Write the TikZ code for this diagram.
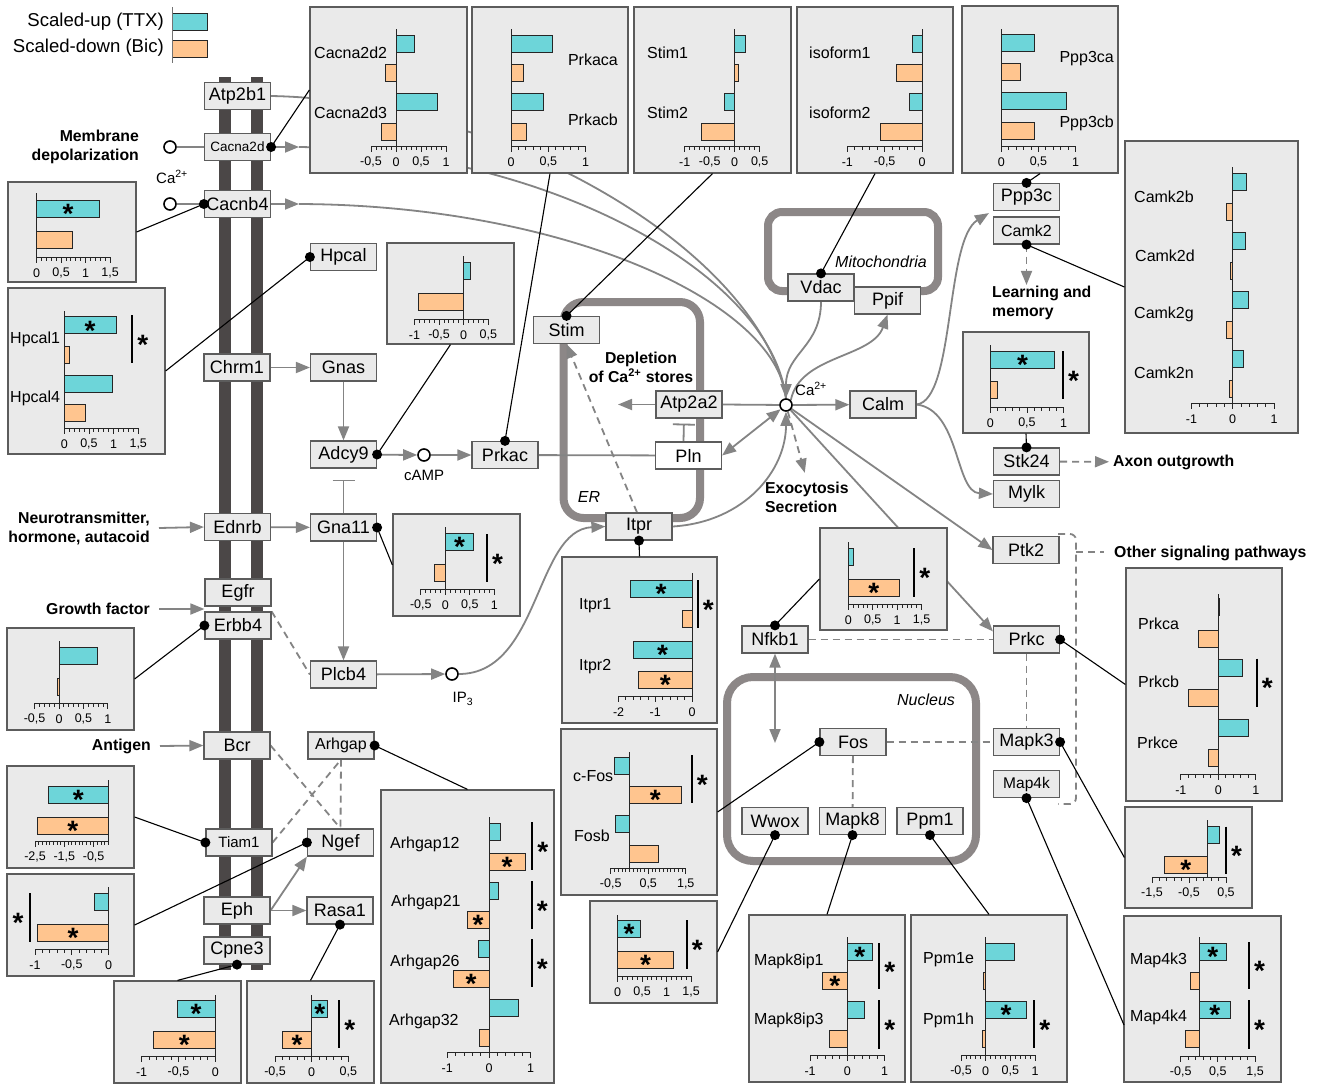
\documentclass[tikz,border=0pt]{standalone}
\usepackage{fontspec}
\setmainfont{Liberation Sans}
\usetikzlibrary{positioning, arrows.meta, fit, backgrounds, calc}

\definecolor{upc}{HTML}{6DD5D9}
\definecolor{dnc}{HTML}{FFC58F}
\definecolor{boxc}{HTML}{EAEAEA}
\definecolor{edgec}{HTML}{5C5C5C}
\definecolor{flowc}{HTML}{848484}
\definecolor{compc}{HTML}{8C8787}
\definecolor{membc}{HTML}{4B4747}

% bars of a chart: top edge (px), value (axis units)
\newcommand\bup[2]{\draw[upbar] (0,#1) rectangle (#2,{#1+17});}
\newcommand\bdn[2]{\draw[dnbar] (0,#1) rectangle (#2,{#1+17});}
\newcommand\bst[2]{\node[astn] at ({#2/2},{#1+8.5}) {*};}
% significance bar: [star offset] x, y from, y to
\newcommand\sig[4][10.5]{\draw[sigln] (#2,#3) -- (#2,#4); \node[astn] at ({#2+(#1)},{(#3+#4)/2}) {*};}
% axes: min, max, minor step, top of value axis, baseline, major ticks
\newcommand\chart[6]{%
  \draw[axisln] (#1,#5) -- (#2,#5);
  \pgfmathsetmacro\tnext{#1+#3}%
  \foreach \tk in {#1,\tnext,...,#2} {\draw[axisln] (\tk,#5) -- (\tk,{#5+3.5});}
  \foreach \mv/\ml in {#6} {\draw[axisln] (\mv,#5) -- (\mv,{#5+6}); \node[tick] at (\mv,{#5+16}) {\ml};}
  \draw[axisln] (0,#4) -- (0,#5);
}
% black link from a gene to its chart
\newcommand\hit[2]{\draw[conn] (#1) -- (#2); \fill (#1) circle[radius=5pt];}

\begin{document}
\begin{tikzpicture}[
    x=1pt, y=-1pt,
    gene/.style={
        rectangle, draw=edgec, line width=1.2pt, fill=boxc,
        minimum width=66pt, minimum height=27pt, inner sep=1pt,
        font=\fontsize{18}{20}\selectfont
    },
    genesm/.style={gene, font=\fontsize{13.5}{15}\selectfont},
    panel/.style={rectangle, draw=edgec, line width=1.2pt, fill=boxc, inner sep=0pt},
    port/.style={circle, draw=black, line width=1.6pt, fill=white, minimum size=12pt, inner sep=0pt},
    upbar/.style={fill=upc, draw=black!85, line width=0.8pt},
    dnbar/.style={fill=dnc, draw=black!85, line width=0.8pt},
    axisln/.style={draw=black!85, line width=0.9pt},
    sigln/.style={draw=black, line width=2pt},
    astn/.style={font=\fontsize{28}{28}\selectfont\bfseries, inner sep=0pt, yshift=-5.6pt},
    glabel/.style={font=\fontsize{16}{18}\selectfont, inner sep=0pt},
    tick/.style={font=\fontsize{12.5}{14}\selectfont, inner sep=0pt},
    tag/.style={font=\fontsize{15.8}{19}\selectfont\bfseries, inner sep=1pt},
    note/.style={font=\fontsize{15}{17}\selectfont, inner sep=1pt},
    region/.style={font=\fontsize{16}{18}\selectfont\itshape, inner sep=1pt},
    compart/.style={draw=compc, line width=8pt, rounded corners=20pt},
    gline/.style={draw=flowc, line width=1.8pt},
    flow/.style={gline, -{Triangle[length=14pt,width=11pt]}},
    both/.style={gline, {Triangle[length=14pt,width=11pt]}-{Triangle[length=14pt,width=11pt]}},
    dline/.style={gline, dash pattern=on 7pt off 5pt},
    dflow/.style={flow, dash pattern=on 7pt off 5pt},
    inhib/.style={gline, -{Bar[width=22pt]}},
    conn/.style={draw=black, line width=1.1pt}
]
\useasboundingbox (0,0) rectangle (1326,1085);

% ---------------- Legend ----------------
\node[note, anchor=east, font=\fontsize{18.6}{21}\selectfont] (legUpTxt) at (165,22) {Scaled-up (TTX)};
\node[note, anchor=east, font=\fontsize{18.6}{21}\selectfont] (legDnTxt) at (165,48) {Scaled-down (Bic)};
\node[upbar, fit={(172,13)(207,30)}, inner sep=0pt] (legUp) {};
\node[dnbar, fit={(172,40)(207,57)}, inner sep=0pt] (legDn) {};
\draw[draw=black!55, line width=1pt] (172,7) -- (172,63);

% ---------------- Plasma membrane ----------------
\node[gene] (Atp2b1) at (237.5,96) {Atp2b1};
\node[genesm] (Cacna2d) at (237.5,147) {Cacna2d};
\node[gene] (Cacnb4) at (237.5,204) {Cacnb4};
\node[gene] (Chrm1) at (237,367.5) {Chrm1};
\node[gene] (Ednrb) at (237.5,527) {Ednrb};
\node[gene] (Egfr) at (238,592.5) {Egfr};
\node[gene] (Erbb4) at (238,625.5) {Erbb4};
\node[gene] (Bcr) at (237,745.5) {Bcr};
\node[genesm, font=\fontsize{15}{17}\selectfont] (Tiam1) at (239,842.5) {Tiam1};
\node[gene] (Eph) at (237,910.5) {Eph};
\node[gene] (Cpne3) at (237,950.5) {Cpne3};

\node[port] (caA) at (170,147) {};
\node[port] (caB) at (170,204) {};
\node[note] (caInLbl) at (172,177) {Ca\textsuperscript{2+}};
\coordinate (tipA) at (299,147);
\coordinate (tipB) at (299,204);

\node[tag, align=right, anchor=east] (memdep) at (140,147) {Membrane\\depolarization};
\node[tag, align=right, anchor=east] (ntx) at (151,528) {Neurotransmitter,\\hormone, autacoid};
\node[tag, anchor=east] (gf) at (151,609) {Growth factor};
\node[tag, anchor=east] (ag) at (152,746) {Antigen};
\coordinate (gfIn) at ($(Egfr.south west)!0.5!(Erbb4.north west)$);

% ---------------- Cytosol ----------------
\node[gene] (Hpcal) at (343.5,257) {Hpcal};
\node[gene] (Gnas) at (343.5,367.5) {Gnas};
\node[gene] (Adcy9) at (343.5,454.5) {Adcy9};
\node[gene] (Gna11) at (343.5,527.5) {Gna11};
\node[gene] (Plcb4) at (343.5,674.5) {Plcb4};
\node[genesm, font=\fontsize{16}{18}\selectfont] (Arhgap) at (341,745.5) {Arhgap};
\node[gene] (Ngef) at (340.5,842.5) {Ngef};
\node[gene] (Rasa1) at (340,910.5) {Rasa1};
\node[gene] (Prkac) at (505,455) {Prkac};
\node[port] (cAMP) at (424,455) {};
\node[note] (cAMPLbl) at (424,475) {cAMP};
\node[port] (IP3) at (452,674) {};
\node[note] (IP3Lbl) at (463,699) {IP\textsubscript{3}};

% ---------------- ER ----------------
\node[gene] (Stim) at (566.5,330) {Stim};
\node[gene] (Atp2a2) at (689,404.5) {Atp2a2};
\node[gene, fill=white] (Pln) at (688.5,455.5) {Pln};
\node[gene] (Itpr) at (639,526.5) {Itpr};
\node[region] (erLbl) at (589,497) {ER};
\node[tag, align=center] (deplete) at (641,367) {Depletion\\of Ca\textsuperscript{2+} stores};
\coordinate (erIn) at (618,404.5);

% ---------------- Ca2+ hub ----------------
\node[port] (Ca) at (786,405) {};
\node[note] (CaLbl) at (811,389) {Ca\textsuperscript{2+}};
\node[gene] (Vdac) at (821,287.5) {Vdac};
\node[gene] (Ppif) at (887.5,300.5) {Ppif};
\node[region] (mitoLbl) at (881,262) {Mitochondria};
\node[gene] (Calm) at (883,404.5) {Calm};
\node[tag, align=left, anchor=west] (exo) at (764,497) {Exocytosis\\Secretion};

% ---------------- Right column ----------------
\node[gene] (Ppp3c) at (1026.5,197) {Ppp3c};
\node[gene, font=\fontsize{16}{18}\selectfont] (Camk2) at (1026.5,230.5) {Camk2};
\node[tag, align=left, anchor=west] (learn) at (991,303) {Learning and\\memory};
\node[gene] (Stk24) at (1026.5,461.5) {Stk24};
\node[gene] (Mylk) at (1026.5,494) {Mylk};
\node[tag, anchor=west] (axon) at (1112,462) {Axon outgrowth};
\node[gene] (Ptk2) at (1026,550) {Ptk2};
\node[tag, anchor=west] (other) at (1113,553) {Other signaling pathways};
\node[gene] (Nfkb1) at (775,639.5) {Nfkb1};
\node[gene] (Prkc) at (1026.5,639.5) {Prkc};
\node[gene] (Mapk3) at (1026.5,742) {Mapk3};
\node[gene, font=\fontsize{15.5}{17}\selectfont] (Map4k) at (1026.5,784) {Map4k};

% ---------------- Nucleus ----------------
\node[gene] (Fos) at (853,742) {Fos};
\node[gene] (Wwox) at (775,821) {Wwox};
\node[gene] (Mapk8) at (852.5,821) {Mapk8};
\node[gene] (Ppm1) at (930,821) {Ppm1};
\node[region] (nucLbl) at (926,700) {Nucleus};
\coordinate (nucIn) at (775,743);

% ---------------- Charts, top row ----------------
\node[panel, fit={(310,7)(467,173)}] (pCacna) {};
\begin{scope}[shift={(396,0)}, x=50pt]
  \bup{35}{0.37} \bdn{64.5}{-0.21} \bup{93.5}{0.83} \bdn{123}{-0.3}
  \chart{-0.5}{1}{0.1}{29}{146}{-0.5/{-0,5}, 0/0, 0.5/{0,5}, 1/1}
\end{scope}
\node[glabel, anchor=west] (lCa2) at (314,53) {Cacna2d2};
\node[glabel, anchor=west] (lCa3) at (314,113) {Cacna2d3};

\node[panel, fit={(472,7)(628,173)}] (pPrkac) {};
\begin{scope}[shift={(511,0)}, x=74.7pt]
  \bup{35}{0.55} \bdn{64.5}{0.16} \bup{93.5}{0.43} \bdn{123}{0.21}
  \chart{0}{1}{0.1}{29}{146}{0/0, 0.5/{0,5}, 1/1}
\end{scope}
\node[glabel, anchor=east] (lPka) at (618,60) {Prkaca};
\node[glabel, anchor=east] (lPkb) at (618,120) {Prkacb};

\node[panel, fit={(634,7)(791,173)}] (pStim) {};
\begin{scope}[shift={(734.7,0)}, x=50pt]
  \bup{35}{0.22} \bdn{64.5}{0.07} \bup{93.5}{-0.21} \bdn{123}{-0.67}
  \chart{-1}{0.5}{0.1}{29}{146}{-1/{-1}, -0.5/{-0,5}, 0/0, 0.5/{0,5}}
\end{scope}
\node[glabel, anchor=west] (lSt1) at (647,53) {Stim1};
\node[glabel, anchor=west] (lSt2) at (647,113) {Stim2};

\node[panel, fit={(797,7)(953,173)}] (pIso) {};
\begin{scope}[shift={(922,0)}, x=74.7pt]
  \bup{35}{-0.125} \bdn{64.5}{-0.34} \bup{93.5}{-0.17} \bdn{123}{-0.56}
  \chart{-1}{0}{0.1}{29}{146}{-1/{-1}, -0.5/{-0,5}, 0/0}
\end{scope}
\node[glabel, anchor=west] (lIs1) at (809,53) {isoform1};
\node[glabel, anchor=west] (lIs2) at (809,113) {isoform2};

\node[panel, fit={(962,6)(1118,173)}] (pPpp3c) {};
\begin{scope}[shift={(1001.3,0)}, x=74.3pt]
  \bup{34}{0.44} \bdn{63}{0.26} \bup{92}{0.88} \bdn{122}{0.45}
  \chart{0}{1}{0.1}{29}{146}{0/0, 0.5/{0,5}, 1/1}
\end{scope}
\node[glabel, anchor=east] (lPpa) at (1114,59) {Ppp3ca};
\node[glabel, anchor=east] (lPpb) at (1114,123) {Ppp3cb};

% ---------------- Charts, right ----------------
\node[panel, fit={(1125,141)(1298,433)}] (pCamk2) {};
\begin{scope}[shift={(1232.7,0)}, x=41.3pt]
  \bup{173}{0.34} \bdn{203}{-0.15} \bup{232}{0.31} \bdn{262}{-0.05}
  \bup{291}{0.39} \bdn{321}{-0.15} \bup{350}{0.27} \bdn{380}{-0.09}
  \chart{-1}{1}{0.2}{167}{403}{-1/{-1}, 0/0, 1/1}
\end{scope}
\node[glabel, anchor=west] (lCkb) at (1134,197) {Camk2b};
\node[glabel, anchor=west] (lCkd) at (1135,256) {Camk2d};
\node[glabel, anchor=west] (lCkg) at (1134,314) {Camk2g};
\node[glabel, anchor=west] (lCkn) at (1134,373) {Camk2n};

\node[panel, fit={(963,332)(1089,433)}] (pStk) {};
\begin{scope}[shift={(990.3,0)}, x=73.3pt]
  \bup{351}{0.88} \bst{351}{0.88} \bdn{381}{0.1}
  \chart{0}{1}{0.1}{345}{407}{0/0, 0.5/{0,5}, 1/1}
\end{scope}
\sig{1063}{351}{399}

\node[panel, fit={(820,528)(947,630)}] (pNfkb) {};
\begin{scope}[shift={(848.3,0)}, x=48.9pt]
  \bup{548}{0.11} \bdn{579}{1.04} \bst{579}{1.04}
  \chart{0}{1.5}{0.1}{542}{604}{0/0, 0.5/{0,5}, 1/1, 1.5/{1,5}}
\end{scope}
\sig{914.3}{548}{597}

\node[panel, fit={(1126,568)(1282,801)}] (pPrkc) {};
\begin{scope}[shift={(1218.3,0)}, x=37.5pt]
  \bup{598}{0.02} \bdn{630}{-0.52} \bup{659}{0.64} \bdn{689}{-0.8}
  \bup{719}{0.8} \bdn{749.5}{-0.27}
  \chart{-1}{1}{0.2}{594}{774}{-1/{-1}, 0/0, 1/1}
\end{scope}
\sig{1256.7}{658.5}{707}
\node[glabel, anchor=west] (lPca) at (1138,624) {Prkca};
\node[glabel, anchor=west] (lPcb) at (1138,682) {Prkcb};
\node[glabel, anchor=west] (lPce) at (1137,743) {Prkce};

\node[panel, fit={(1125,807)(1252,908)}] (pMapk3) {};
\begin{scope}[shift={(1207.5,0)}, x=37pt]
  \bup{826}{0.31} \bdn{856}{-1.17} \bst{856}{-1.17}
  \chart{-1.5}{0.5}{0.2}{820}{877}{-1.5/{-1,5}, -0.5/{-0,5}, 0.5/{0,5}}
\end{scope}
\sig{1226}{826.5}{874}

\node[panel, fit={(1124,916)(1281,1082)}] (pMap4k) {};
\begin{scope}[shift={(1199.3,0)}, x=37.2pt]
  \bup{943}{0.73} \bst{943}{0.73} \bdn{972.5}{-0.25}
  \bup{1001}{0.84} \bst{1001}{0.84} \bdn{1030}{-0.37}
  \chart{-0.5}{1.5}{0.2}{937}{1056}{-0.5/{-0,5}, 0.5/{0,5}, 1.5/{1,5}}
\end{scope}
\sig{1249}{942}{989}
\sig{1249}{1000}{1049}
\node[glabel, anchor=west] (lM43) at (1130,960) {Map4k3};
\node[glabel, anchor=west] (lM44) at (1130,1017) {Map4k4};

% ---------------- Charts, bottom ----------------
\node[panel, fit={(749,915)(905,1082)}] (pMapk8) {};
\begin{scope}[shift={(847.3,0)}, x=37.2pt]
  \bup{943}{0.67} \bst{943}{0.67} \bdn{972}{-0.67} \bst{972}{-0.67}
  \bup{1001}{0.45} \bdn{1030}{-0.48}
  \chart{-1}{1}{0.2}{937}{1055}{-1/{-1}, 0/0, 1/1}
\end{scope}
\sig{879.3}{943}{989}
\sig{879.3}{1000}{1049}
\node[glabel, anchor=west] (lMi1) at (754,961) {Mapk8ip1};
\node[glabel, anchor=west] (lMi3) at (754,1020) {Mapk8ip3};

\node[panel, fit={(911,915)(1067,1082)}] (pPpm) {};
\begin{scope}[shift={(985.7,0)}, x=49.3pt]
  \bup{943}{0.58} \bdn{972}{-0.05} \bup{1001}{0.83} \bst{1001}{0.83} \bdn{1030}{-0.07}
  \chart{-0.5}{1}{0.1}{937}{1055}{-0.5/{-0,5}, 0/0, 0.5/{0,5}, 1/1}
\end{scope}
\sig{1034.3}{1000}{1048}
\node[glabel, anchor=west] (lPpe) at (923,960) {Ppm1e};
\node[glabel, anchor=west] (lPph) at (923,1020) {Ppm1h};

\node[panel, fit={(562,557)(717,723)}] (pItpr) {};
\begin{scope}[shift={(692,0)}, x=36.7pt]
  \bup{580}{-1.68} \bst{580}{-1.68} \bdn{610}{-0.25}
  \bup{641}{-1.6} \bst{641}{-1.6} \bdn{671}{-1.45} \bst{671}{-1.45}
  \chart{-2}{0}{0.2}{573}{696}{-2/{-2}, -1/{-1}, 0/0}
\end{scope}
\sig{697.7}{580}{628}
\node[glabel, anchor=west] (lIt1) at (579,606) {Itpr1};
\node[glabel, anchor=west] (lIt2) at (579,667) {Itpr2};

\node[panel, fit={(561,729)(717,895)}] (pFos) {};
\begin{scope}[shift={(629.5,0)}, x=37.5pt]
  \bup{757}{-0.39} \bdn{786}{1.38} \bst{786}{1.38}
  \bup{815.5}{-0.37} \bdn{845}{0.76}
  \chart{-0.5}{1.5}{0.1}{752}{868}{-0.5/{-0,5}, 0.5/{0,5}, 1.5/{1,5}}
\end{scope}
\sig{691.7}{755}{803}
\node[glabel, anchor=west] (lcFos) at (573,776) {c-Fos};
\node[glabel, anchor=west] (lFosb) at (574,836) {Fosb};

\node[panel, fit={(590,901)(717,1003)}] (pWwox) {};
\begin{scope}[shift={(617.7,0)}, x=48.9pt]
  \bup{920}{0.46} \bst{920}{0.46} \bdn{951}{1.14} \bst{951}{1.14}
  \chart{0}{1.5}{0.1}{915}{976}{0/0, 0.5/{0,5}, 1/1, 1.5/{1,5}}
\end{scope}
\sig{686.7}{920}{969}

\node[panel, fit={(381,790)(554,1083)}] (pArh) {};
\begin{scope}[shift={(489,0)}, x=41.7pt]
  \bup{823}{0.27} \bdn{853}{0.87} \bst{853}{0.87}
  \bup{882}{0.23} \bdn{911}{-0.52} \bst{911}{-0.52}
  \bup{940.5}{-0.26} \bdn{970}{-0.86} \bst{970}{-0.86}
  \bup{999.5}{0.7} \bdn{1029.5}{-0.23}
  \chart{-1}{1}{0.2}{817}{1052}{-1/{-1}, 0/0, 1/1}
\end{scope}
\sig{532.3}{822}{870}
\sig{531.7}{881}{929}
\sig{531.7}{939}{987}
\node[glabel, anchor=west] (lA12) at (390,844) {Arhgap12};
\node[glabel, anchor=west] (lA21) at (391,902) {Arhgap21};
\node[glabel, anchor=west] (lA26) at (390,962) {Arhgap26};
\node[glabel, anchor=west] (lA32) at (389,1021) {Arhgap32};

\node[panel, fit={(247,981)(374,1083)}] (pRasa) {};
\begin{scope}[shift={(311.7,0)}, x=73.3pt]
  \bup{1000}{0.22} \bst{1000}{0.22} \bdn{1031}{-0.4} \bst{1031}{-0.4}
  \chart{-0.5}{0.5}{0.1}{995}{1056}{-0.5/{-0,5}, 0/0, 0.5/{0,5}}
\end{scope}
\sig{339.3}{1000}{1048}

\node[panel, fit={(114,981)(241,1083)}] (pCpne) {};
\begin{scope}[shift={(215.3,0)}, x=73.7pt]
  \bup{1000}{-0.52} \bst{1000}{-0.52} \bdn{1031}{-0.84} \bst{1031}{-0.84}
  \chart{-1}{0}{0.1}{995}{1056}{-1/{-1}, -0.5/{-0,5}, 0/0}
\end{scope}

% ---------------- Charts, left ----------------
\node[panel, fit={(8,182)(136,282)}] (pCacnb) {};
\begin{scope}[shift={(36.7,0)}, x=48.9pt]
  \bup{200}{1.28} \bst{200}{1.28} \bdn{231}{0.73}
  \chart{0}{1.5}{0.1}{193}{257}{0/0, 0.5/{0,5}, 1/1, 1.5/{1,5}}
\end{scope}

\node[panel, fit={(8,288)(165,454)}] (pHpcal) {};
\begin{scope}[shift={(64.3,0)}, x=49.3pt]
  \bup{316.5}{1.05} \bst{316.5}{1.05} \bdn{346}{0.1}
  \bup{375}{0.97} \bdn{404.5}{0.43}
  \chart{0}{1.5}{0.1}{311}{428}{0/0, 0.5/{0,5}, 1/1, 1.5/{1,5}}
\end{scope}
\sig{132.3}{315}{363}
\node[glabel, anchor=west] (lHp1) at (10,339) {Hpcal1};
\node[glabel, anchor=west] (lHp4) at (10,398) {Hpcal4};

\node[panel, fit={(387,243)(514,344)}] (pAdcy) {};
\begin{scope}[shift={(463.7,0)}, x=49.3pt]
  \bup{262}{0.14} \bdn{293}{-0.92}
  \chart{-1}{0.5}{0.1}{256}{319}{-1/{-1}, -0.5/{-0,5}, 0/0, 0.5/{0,5}}
\end{scope}

\node[panel, fit={(393,514)(520,616)}] (pGna) {};
\begin{scope}[shift={(445.3,0)}, x=49pt]
  \bup{533}{0.58} \bst{533}{0.58} \bdn{564}{-0.22}
  \chart{-0.5}{1}{0.1}{527}{589}{-0.5/{-0,5}, 0/0, 0.5/{0,5}, 1/1}
\end{scope}
\sig{487}{534}{582}

\node[panel, fit={(7,628)(134,730)}] (pErbb) {};
\begin{scope}[shift={(59,0)}, x=48.9pt]
  \bup{647}{0.78} \bdn{678}{-0.03}
  \chart{-0.5}{1}{0.1}{641}{703}{-0.5/{-0,5}, 0/0, 0.5/{0,5}, 1/1}
\end{scope}

\node[panel, fit={(7,766)(134,868)}] (pTiam) {};
\begin{scope}[shift={(108.3,0)}, x=29.3pt]
  \bup{786}{-2.05} \bst{786}{-2.05} \bdn{817}{-2.42} \bst{817}{-2.42}
  \chart{-2.5}{0}{0.125}{780}{841}{-2.5/{-2,5}, -1.5/{-1,5}, -0.5/{-0,5}}
\end{scope}

\node[panel, fit={(7,874)(134,976)}] (pNgef) {};
\begin{scope}[shift={(108.7,0)}, x=73.7pt]
  \bup{893}{-0.19} \bdn{924}{-0.97} \bst{924}{-0.97}
  \chart{-1}{0}{0.1}{887}{949}{-1/{-1}, -0.5/{-0,5}, 0/0}
\end{scope}
\sig[-12]{30}{893}{942}

\coordinate (map4kEnd) at (1124,1025);

% ---------------- Background: membrane, compartments, flows ----------------
\begin{scope}[on background layer]
  \fill[white] (0,0) rectangle (1326,1085);
  \fill[membc] (219,77) rectangle (231,970);
  \fill[membc] (251,77) rectangle (263,970);
  \draw[compart] (563.5,302) rectangle (700,518);
  \draw[compart, rounded corners=14pt] (768,212) rectangle (938,291);
  \draw[compart, rounded corners=26pt] (727,677) rectangle (976,861);

  % membrane inputs
  \draw[gline] (caA) -- (Cacna2d);
  \draw[gline] (caB) -- (Cacnb4);
  \draw[flow] (Cacna2d.east) -- (tipA);
  \draw[flow] (Cacnb4.east) -- (tipB);
  \draw[flow] ([xshift=8pt]ntx.east) -- (Ednrb.west);
  \draw[flow] ([xshift=8pt]gf.east) -- (gfIn);
  \draw[flow] ([xshift=8pt]ag.east) -- (Bcr.west);

  % Ca2+ influx
  \draw[gline] (Atp2b1.east) .. controls (500,100) and (760,250) .. (Ca.north);
  \draw[gline] (tipA) .. controls (540,150) and (770,270) .. (Ca.north);
  \draw[gline] (tipB) .. controls (560,205) and (776,300) .. (Ca.north);
  \draw[flow] (Vdac.south) .. controls +(0,45) and +(0,-45) .. (Ca.north);
  \draw[flow] (Ca.north east) .. controls (800,355) and (872,358) .. (Ppif.south);
  \draw[flow] (Itpr.east) .. controls (745,522) and (786,470) .. (Ca.south);
  \draw[flow] (IP3.east) .. controls (540,674) and (535,530) .. (Itpr.west);

  % cAMP / PLC branch
  \draw[flow] (Chrm1) -- (Gnas);
  \draw[flow] (Gnas) -- (Adcy9);
  \draw[flow] (Adcy9) -- (cAMP);
  \draw[flow] (cAMP) -- (Prkac);
  \draw[gline] (Prkac) -- (Pln);
  \draw[inhib, shorten >=11pt] (Gna11) -- (Adcy9);
  \draw[flow] (Ednrb) -- (Gna11);
  \draw[flow] (Gna11) -- (Plcb4);
  \draw[flow] (Plcb4) -- (IP3);
  \draw[dline] (Erbb4.north east) -- (Plcb4.west);

  % small GTPase regulators
  \draw[dline] (Bcr.east) -- (Ngef.north);
  \draw[dline] (Tiam1.east) -- (Arhgap.south);
  \draw[dline] (Arhgap.south) -- (Ngef.north);
  \draw[flow] (Eph.east) -- (Ngef.south west);
  \draw[flow] (Eph) -- (Rasa1);

  % ER
  \draw[flow] (Atp2a2.west) -- (erIn);
  \draw[inhib, shorten >=5pt] ([xshift=-5pt]Pln.north) -- ([xshift=-5pt]Atp2a2.south);
  \draw[dflow] ([xshift=-2pt]Itpr.north) -- (Stim.south);
  \draw[gline] (Atp2a2.east) -- (Ca);
  \draw[both] (Pln.east) -- (Ca);

  % Ca2+ targets
  \draw[flow] (Ca) -- (Calm);
  \draw[dflow, shorten >=8pt] (Ca) -- (exo.north);
  \draw[flow] (Ca) -- (Ptk2.west);
  \draw[flow] (Ca) -- ([yshift=-6pt]Prkc.north west);
  \draw[flow] (Calm.east) .. controls (955,400) and (945,240) .. ([shift={(-4,2)}]Ppp3c.south west);
  \draw[flow] (Calm.east) .. controls (960,410) and (955,492) .. (Mylk.west);
  \draw[dflow] (Camk2.south) -- (Camk2.south |- learn.north);
  \draw[dflow, shorten >=3pt] (Stk24) -- (axon);

  % kinase cross-talk
  \draw[dline] (Nfkb1) -- (Prkc);
  \draw[dline] (Prkc) -- (Mapk3);
  \draw[dline] (Fos) -- (Mapk3);
  \draw[dline] (Fos) -- (Mapk8);
  \draw[both] (Nfkb1.south) -- (nucIn);
  \draw[dline, rounded corners=6pt] (1058,534) -- (1076,534) -- (1076,804) -- (1058,804);
  \draw[dline] (1076,552) -- (1104,552);
\end{scope}

% ---------------- Gene to chart links ----------------
\hit{Cacna2d.east}{pCacna.west}
\hit{Cacnb4.west}{pCacnb.east}
\hit{Hpcal.west}{pHpcal.east}
\hit{Adcy9.east}{pAdcy.south}
\hit{Prkac.north}{pPrkac.south}
\hit{Stim.north}{pStim.south}
\hit{Vdac.north}{pIso.south}
\hit{Ppp3c.north}{pPpp3c.south}
\hit{Camk2.south}{pCamk2.west}
\hit{Stk24.north}{pStk.south}
\hit{Gna11.east}{pGna.west}
\hit{Itpr.south}{pItpr.north}
\hit{Erbb4.west}{pErbb.east}
\hit{Tiam1.west}{pTiam.east}
\hit{Ngef.west}{pNgef.east}
\hit{Cpne3.south}{pCpne.north}
\hit{Rasa1.south}{pRasa.north}
\hit{Arhgap.east}{pArh.north}
\hit{Fos.west}{pFos.east}
\hit{Wwox.south}{pWwox.east}
\hit{Nfkb1.north}{pNfkb.west}
\hit{Mapk8.south}{pMapk8.north}
\hit{Ppm1.south}{pPpm.north}
\hit{Prkc.east}{pPrkc.west}
\hit{Mapk3.east}{pMapk3.west}
\hit{Map4k.south}{map4kEnd}

\end{tikzpicture}
\end{document}
